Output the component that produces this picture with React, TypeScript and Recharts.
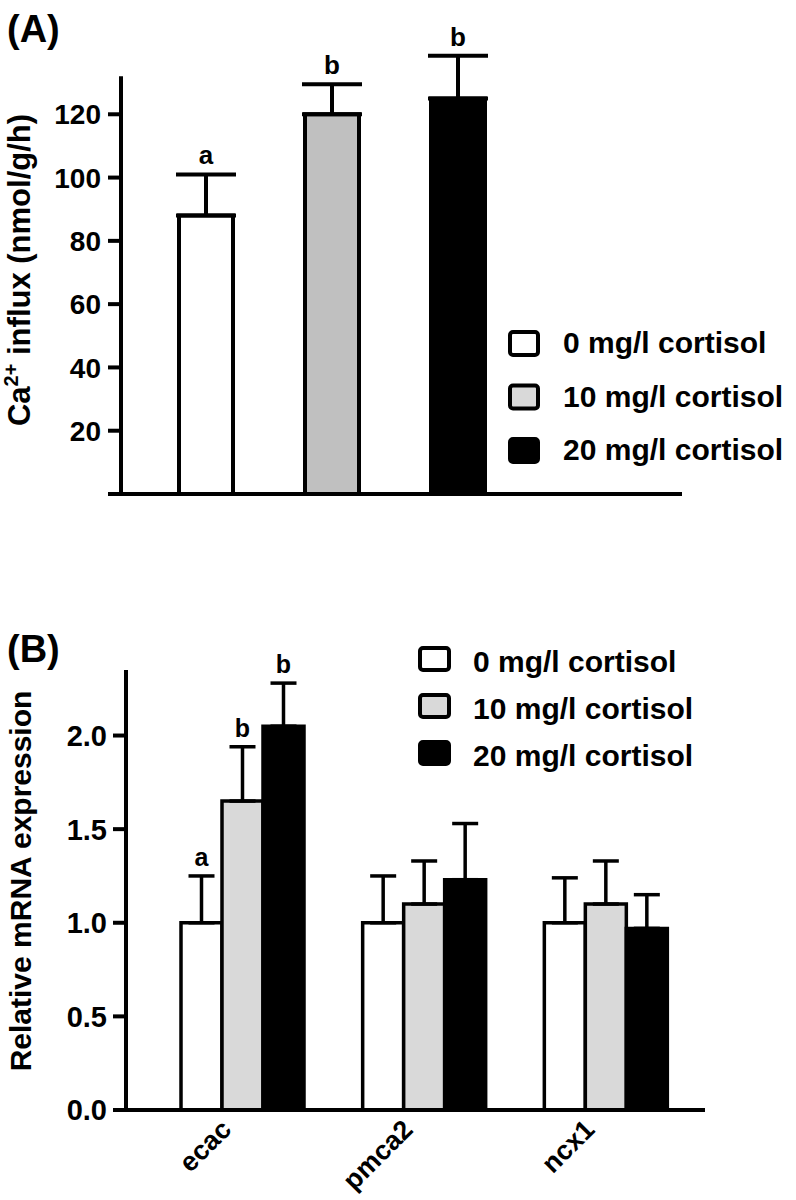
import React from 'react'
import {
  BarChart,
  Bar,
  XAxis,
  YAxis,
  ErrorBar,
  Cell,
  LabelList,
  ReferenceLine,
} from 'recharts'

const FONT = '"Liberation Sans", Arial, Helvetica, sans-serif'

// (A) Ca2+ influx
const doseLabels = ['0 mg/l cortisol', '10 mg/l cortisol', '20 mg/l cortisol']
const influxMean = [88, 120, 125]
const influxSem = [13, 9.5, 13.5]
const influxSig = ['a', 'b', 'b']
const influxTicks = [0, 20, 40, 60, 80, 100, 120]
const influxAxisTop = 132

// (B) relative mRNA expression
const genes = ['ecac', 'pmca2', 'ncx1']
const expr0 = [1.0, 1.0, 1.0]
const expr10 = [1.65, 1.1, 1.1]
const expr20 = [2.05, 1.23, 0.97]
const err0 = [0.25, 0.25, 0.24]
const err10 = [0.29, 0.23, 0.23]
const err20 = [0.23, 0.3, 0.18]
const sig0 = ['a', '', '']
const sig10 = ['b', '', '']
const sig20 = ['b', '', '']
const exprTicks = [0, 0.5, 1.0, 1.5, 2.0]

const fillsA = ['#ffffff', '#c0c0c0', '#000000']
const fillsB = ['#ffffff', '#d9d9d9', '#000000']

const influxData = doseLabels.map((d, i) => ({
  dose: d,
  mean: influxMean[i],
  err: [0, influxSem[i]],
  sig: influxSig[i],
}))

const exprData = genes.map((g, i) => ({
  gene: g,
  v0: expr0[i],
  v10: expr10[i],
  v20: expr20[i],
  e0: [0, err0[i]],
  e10: [0, err10[i]],
  e20: [0, err20[i]],
  s0: sig0[i],
  s10: sig10[i],
  s20: sig20[i],
}))

// letter above the error bar, placed from the bar's own geometry
function sigContent(rows: any[], valueKey: string, errKey: string, fontSize: number) {
  return (p: any) => {
    if (!p.value) return null
    const row = rows[p.index]
    const x = Number(p.x)
    const y = Number(p.y)
    const w = Number(p.width)
    const h = Number(p.height)
    const top = y - (h / row[valueKey]) * row[errKey][1]
    return (
      <text
        x={x + w / 2}
        y={top - 10}
        textAnchor="middle"
        style={{ fontFamily: FONT, fontWeight: 700, fontSize }}
        fill="#000"
      >
        {p.value}
      </text>
    )
  }
}

function GeneTick(props: any) {
  const { x, y, payload } = props
  const tx = x - 10
  const ty = y + 13
  return (
    <text
      x={tx}
      y={ty}
      transform={`rotate(-45, ${tx}, ${ty})`}
      textAnchor="end"
      style={{ fontFamily: FONT, fontWeight: 700, fontSize: 27 }}
      fill="#000"
    >
      {payload.value}
    </text>
  )
}

function valueTick(fontSize: number, digits: number, hideZero: boolean) {
  return (props: any) => {
    const { x, y, payload } = props
    const v = payload.value as number
    if (hideZero && v === 0) return <g />
    return (
      <g transform={`translate(${x}, ${y})`}>
        <text
          x={0}
          y={0}
          dy={fontSize * 0.36}
          textAnchor="end"
          style={{ fontFamily: FONT, fontWeight: 700, fontSize }}
          fill="#000"
        >
          {v.toFixed(digits)}
        </text>
      </g>
    )
  }
}

function InfluxChart() {
  return (
    <BarChart
      width={796}
      height={560}
      data={influxData}
      margin={{ top: 51, right: 114, bottom: 65, left: 0 }}
      barSize={54}
    >
      <XAxis
        dataKey="dose"
        tick={false}
        tickLine={false}
        stroke="#000"
        axisLine={{ stroke: '#000', strokeWidth: 4 }}
        height={1}
        padding={{ left: 22, right: 161 }}
      />
      <XAxis xAxisId="n" type="number" domain={[0, 1]} hide />
      <YAxis
        domain={[0, 140]}
        ticks={influxTicks}
        interval={0}
        width={121}
        stroke="#000"
        axisLine={false}
        tickLine={{ stroke: '#000', strokeWidth: 4 }}
        tickSize={13}
        tickMargin={7}
        tick={valueTick(28, 0, true)}
      />
      <ReferenceLine
        xAxisId="n"
        segment={[
          { x: 0, y: 0 },
          { x: 0, y: influxAxisTop },
        ]}
        stroke="#000"
        strokeWidth={4}
        ifOverflow="visible"
      />
      <Bar dataKey="mean" stroke="#000" strokeWidth={4} isAnimationActive={false}>
        {influxData.map((d, i) => (
          <Cell key={d.dose} fill={fillsA[i]} />
        ))}
        <ErrorBar dataKey="err" width={30} strokeWidth={4} stroke="#000" direction="y" />
        <LabelList dataKey="sig" content={sigContent(influxData, 'mean', 'err', 26)} />
      </Bar>
    </BarChart>
  )
}

function ExpressionChart() {
  const series = [
    { v: 'v0', e: 'e0', s: 's0' },
    { v: 'v10', e: 'e10', s: 's10' },
    { v: 'v20', e: 'e20', s: 's20' },
  ]
  return (
    <BarChart
      width={796}
      height={640}
      data={exprData}
      margin={{ top: 110, right: 91, bottom: 10, left: 0 }}
      barSize={41}
      barGap={0}
    >
      <XAxis
        dataKey="gene"
        height={80}
        interval={0}
        padding={{ left: 26, right: 8 }}
        stroke="#000"
        axisLine={{ stroke: '#000', strokeWidth: 4 }}
        tickLine={false}
        tick={<GeneTick />}
      />
      <YAxis
        domain={[0, 2.35]}
        ticks={exprTicks}
        interval={0}
        width={126}
        stroke="#000"
        axisLine={{ stroke: '#000', strokeWidth: 4 }}
        tickLine={{ stroke: '#000', strokeWidth: 4 }}
        tickSize={13}
        tickMargin={6}
        tick={valueTick(29, 1, false)}
      />
      {series.map((s, i) => (
        <Bar
          key={s.v}
          dataKey={s.v}
          fill={fillsB[i]}
          stroke="#000"
          strokeWidth={3.5}
          isAnimationActive={false}
        >
          <ErrorBar dataKey={s.e} width={13} strokeWidth={3.5} stroke="#000" direction="y" />
          <LabelList dataKey={s.s} content={sigContent(exprData, s.v, s.e, 25)} />
        </Bar>
      ))}
    </BarChart>
  )
}

function Overlay() {
  const txt = { fontFamily: FONT, fontWeight: 700, fill: '#000' }
  return (
    <svg
      width={796}
      height={1200}
      style={{ position: 'absolute', left: 0, top: 0, pointerEvents: 'none' }}
    >
      <text x={7} y={42} fontSize={38} {...txt}>(A)</text>
      <text x={7} y={662} fontSize={38} {...txt}>(B)</text>

      <text transform="translate(30, 270) rotate(-90)" textAnchor="middle" fontSize={31} {...txt}>
        Ca
        <tspan fontSize={20} dy={-12}>2+</tspan>
        <tspan dy={12}> influx (nmol/g/h)</tspan>
      </text>
      <text transform="translate(31, 881) rotate(-90)" textAnchor="middle" fontSize={30} {...txt}>
        Relative mRNA expression
      </text>

      {doseLabels.map((d, i) => (
        <g key={'a' + d}>
          <rect
            x={510}
            y={332 + i * 53.5}
            width={28}
            height={23}
            rx={3}
            fill={i === 1 ? fillsB[1] : fillsA[i]}
            stroke="#000"
            strokeWidth={4}
          />
          <text x={563} y={353 + i * 53.5} fontSize={30} {...txt}>{d}</text>
        </g>
      ))}
      {doseLabels.map((d, i) => (
        <g key={'b' + d}>
          <rect
            x={420}
            y={648 + i * 47}
            width={29}
            height={22}
            rx={3}
            fill={fillsB[i]}
            stroke="#000"
            strokeWidth={4}
          />
          <text x={473} y={672 + i * 47} fontSize={30} {...txt}>{d}</text>
        </g>
      ))}
    </svg>
  )
}

export default function App() {
  return (
    <div style={{ position: 'absolute', left: 0, top: 0, width: 796, height: 1200, background: '#fff' }}>
      <div style={{ position: 'absolute', left: 0, top: 0 }}>
        <InfluxChart />
      </div>
      <div style={{ position: 'absolute', left: 0, top: 560 }}>
        <ExpressionChart />
      </div>
      <Overlay />
    </div>
  )
}
